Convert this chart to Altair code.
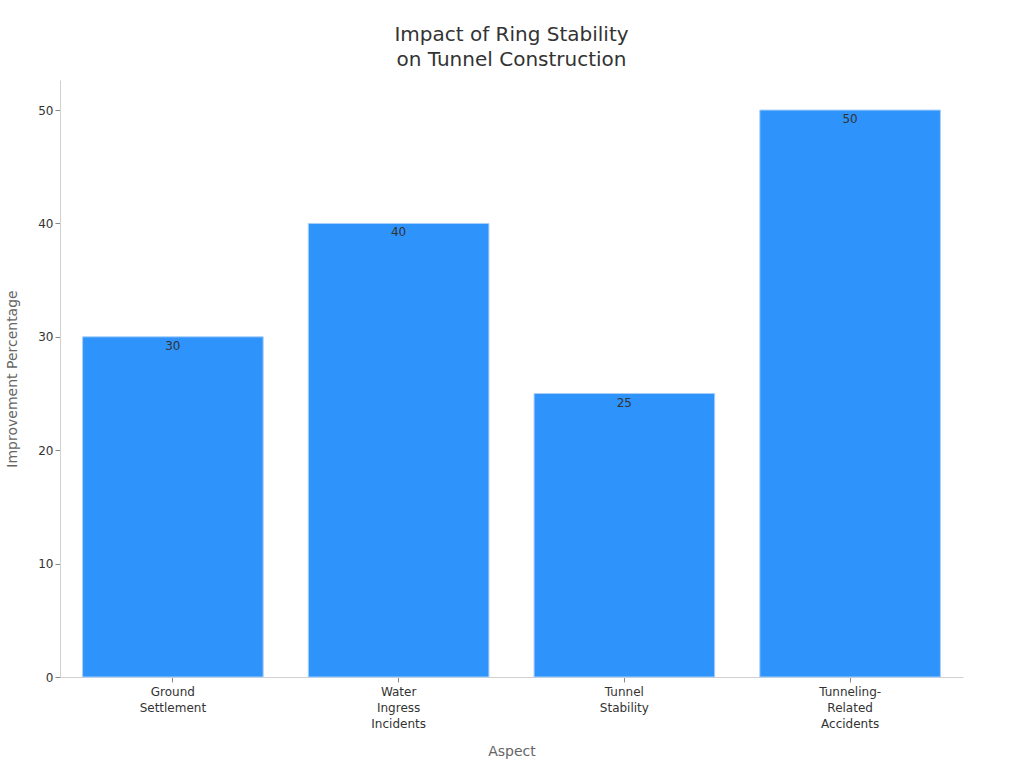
import altair as alt
import pandas as pd

categories = ["Ground\nSettlement", "Water\nIngress\nIncidents", "Tunnel\nStability", "Tunneling-\nRelated\nAccidents"]
values = [30, 40, 25, 50]

df = pd.DataFrame({"Aspect": categories, "Improvement": values})

base = alt.Chart(df).encode(
    x=alt.X("Aspect:N", sort=categories, title="Aspect",
            scale=alt.Scale(paddingInner=0.2, paddingOuter=0.1),
            axis=alt.Axis(labelAngle=0, labelExpr="split(datum.label, '\\n')",
                          labelFont="DejaVu Sans", labelFontSize=12, labelColor="#333333",
                          labelLineHeight=16,
                          titleFont="DejaVu Sans", titleFontSize=14, titleColor="#666666",
                          titleFontWeight="normal", titlePadding=15,
                          domainColor="#d0d0d0", tickColor="#888888", tickSize=5,
                          labelPadding=4)),
    y=alt.Y("Improvement:Q", title="Improvement Percentage",
            scale=alt.Scale(domain=[0, 52.65], nice=False),
            axis=alt.Axis(values=[0, 10, 20, 30, 40, 50], grid=False,
                          labelFont="DejaVu Sans", labelFontSize=12, labelColor="#333333",
                          titleFont="DejaVu Sans", titleFontSize=14, titleColor="#666666",
                          titleFontWeight="normal", titlePadding=18,
                          domainColor="#d0d0d0", tickColor="#888888", tickSize=5)),
)

bars = base.mark_bar(color="#2E93FA", stroke="#A8CFFA", strokeWidth=1)
labels = base.mark_text(baseline="top", dy=4, font="DejaVu Sans", fontSize=12, color="#333333").encode(
    text=alt.Text("Improvement:Q"))

chart = (bars + labels).properties(
    width=903, height=597,
    title=alt.Title(["Impact of Ring Stability", "on Tunnel Construction"],
                    font="DejaVu Sans", fontSize=20, fontWeight="normal", color="#333333",
                    anchor="middle", offset=10, lineHeight=25),
    autosize=alt.AutoSizeParams(type="none"),
    padding={"left": 60, "top": 80, "right": 61, "bottom": 91},
).configure_view(stroke=None)

chart.save("out.html", embed_options={"renderer": "svg", "actions": False})
